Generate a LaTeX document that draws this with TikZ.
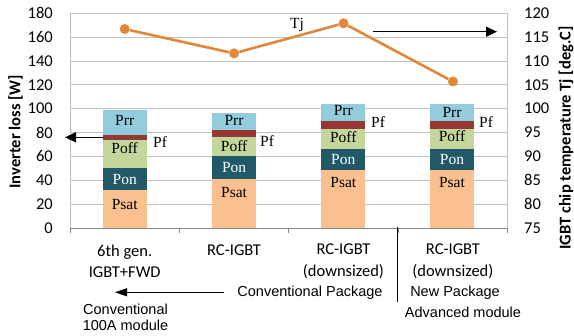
\documentclass[tikz,border=0pt]{standalone}
\usepackage{fontspec}
\setmainfont{Liberation Serif}
\newfontfamily\calfont{Carlito}
\newfontfamily\arialfont{Liberation Sans}
\usepackage{tikz}
\usetikzlibrary{arrows.meta, positioning}

\definecolor{psat}{HTML}{FAC090}
\definecolor{pon}{HTML}{215968}
\definecolor{poff}{HTML}{C3D69B}
\definecolor{pf}{HTML}{953735}
\definecolor{prr}{HTML}{93CDDD}
\definecolor{tjorange}{HTML}{E2873A}
\definecolor{gridgray}{HTML}{BFBFBF}
\definecolor{axisgray}{HTML}{868686}

\tikzset{
  gridline/.style={gridgray, line width=0.9pt},
  axisline/.style={axisgray, line width=0.9pt},
  seglabel/.style={font=\fontsize{15.5}{15.5}\selectfont, inner sep=0pt},
  ticklabel/.style={font=\calfont\fontsize{16.5}{16.5}\selectfont, inner sep=0pt},
  axistitle/.style={font=\calfont\bfseries\fontsize{16.5}{16.5}\selectfont, inner sep=0pt, rotate=90},
  catlabel/.style={font=\calfont\fontsize{16.5}{21.6}\selectfont, align=center, inner sep=0pt},
  notelabel/.style={font=\arialfont\fontsize{14.5}{16.4}\selectfont, align=center, inner sep=0pt},
  tjdot/.style={circle, fill=tjorange, inner sep=0pt, minimum size=10pt},
  callout/.style={line width=1.3pt, -{Triangle[length=11pt, width=10pt]}},
}

\begin{document}
\begin{tikzpicture}[x=1pt, y=1pt]
\useasboundingbox (0,0) rectangle (574,336);

% left axis, inverter loss in W
\begin{scope}[shift={(0,108)}, yscale=1.193]
  \foreach \v in {20,40,...,180}
    \draw[gridline] (70,\v) -- (507.7,\v);
  \draw[gridline] (70,0) -- (70,180);
  \draw[gridline] (507.7,0) -- (507.7,180);
  \draw[axisline] (70,0) -- (507.7,0);
  \foreach \t in {70,179.4,288.9,398.3,507.7}
    \draw[axisline] (\t,0) -- (\t,-4.2);
  \foreach \v in {0,20,...,180}
    \node[ticklabel, anchor=east] (w\v) at (53,\v) {\v};

  % stacked bars: Psat, Pon, Poff, Pf, Prr
  \foreach \n/\cx/\ps/\po/\pof/\pf/\pr/\ls/\lof/\lr/\lf/\pfx in {
      1/124.7/31.9/50.0/73.8/78.2/98.9/20.1/66.8/89.9/71.8/153,
      2/234.1/41.1/60.1/76.5/82.1/96.1/29.6/69.0/89.9/72.9/260,
      3/343.3/48.6/66.5/83.2/89.9/103.9/38.0/76.5/98.3/88.6/371,
      4/452.0/48.6/66.5/82.7/89.9/103.9/38.0/77.1/97.0/88.6/479}{
    \fill[psat] (\cx-22,0) rectangle (\cx+22,\ps);
    \fill[pon] (\cx-22,\ps) rectangle (\cx+22,\po);
    \fill[poff] (\cx-22,\po) rectangle (\cx+22,\pof);
    \fill[pf] (\cx-22,\pof) rectangle (\cx+22,\pf);
    \fill[prr] (\cx-22,\pf) rectangle (\cx+22,\pr);
    \node[seglabel] (psat\n) at (\cx,\ls) {Psat};
    \node[seglabel, text=white] (pon\n) at (\cx,{(\ps+\po)/2}) {Pon};
    \node[seglabel] (poff\n) at (\cx,\lof) {Poff};
    \node[seglabel] (prr\n) at (\cx,\lr) {Prr};
    \node[seglabel, anchor=west] (pf\n) at (\pfx,\lf) {Pf};
  }
  \coordinate (pfleft) at (102.7,76);
  \coordinate (pfend) at (65,76);
\end{scope}

% right axis, chip temperature
\begin{scope}[shift={(0,-249.8)}, yscale=4.771]
  \foreach \t in {75,80,...,120}
    \node[ticklabel, anchor=west] (deg\t) at (524,\t) {\t};
  \node[tjdot] (tja) at (124.7,116.7) {};
  \node[tjdot] (tjb) at (234.1,111.6) {};
  \node[tjdot] (tjc) at (343.5,117.9) {};
  \node[tjdot] (tjd) at (452.9,105.7) {};
\end{scope}
\draw[tjorange, line width=2.6pt] (tja) -- (tjb) -- (tjc) -- (tjd);

\draw[callout] (pfleft) -- (pfend);
\node[seglabel] (tjname) at (297,311) {Tj};
\coordinate (tjfrom) at (373,304.3);
\coordinate (tjto) at (497,304.3);
\draw[callout] (tjfrom) -- (tjto);

\node[axistitle] (losstitle) at (15.5,204.3) {Inverter loss [W]};
\node[axistitle] (tjtitle) at (566,198) {IGBT chip temperature Tj [deg.C]};

% categories
\node[catlabel] (cat1) at (124.7,74.5) {6th gen.\\IGBT+FWD};
\node[catlabel] (cat2) at (234.1,85.3) {RC-IGBT};
\node[catlabel] (cat3) at (343.5,74.5) {RC-IGBT\\(downsized)};
\node[catlabel] (cat4) at (452.9,74.5) {RC-IGBT\\(downsized)};

% package notes
\node[notelabel] (convpkg) at (310,43.7) {Conventional Package};
\coordinate[left=13.6pt of convpkg.west] (convfrom);
\coordinate (convto) at (115,43.7);
\draw[line width=1pt, -{Triangle[length=12pt, width=8pt]}] (convfrom) -- (convto);
\node[notelabel] (newpkg) at (455,43.7) {New Package};
\node[notelabel] (advmod) at (463,23.3) {Advanced module};
\node[notelabel] (convmod) at (125.5,18.5) {Conventional\\100A module};
\coordinate (divtop) at (397.7,109);
\coordinate (divbot) at (397.7,34.3);
\draw[line width=1.3pt] (divtop) -- (divbot);
\end{tikzpicture}
\end{document}
